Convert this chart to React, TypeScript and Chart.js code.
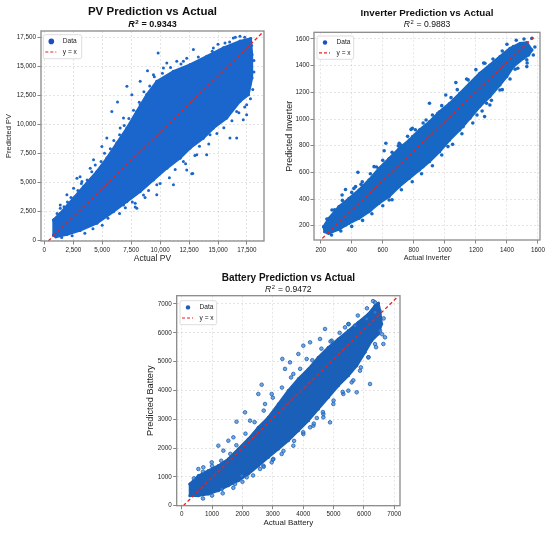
import React, { useEffect, useRef } from 'react';
import Chart from 'chart.js/auto';

type Pt = [number, number];

const FONT = "'Liberation Sans', Arial, sans-serif";
Chart.defaults.font.family = FONT;

const legendLabels = ['Data', 'y = x'];

// ---- PV ----
const pvTicks = [0, 2500, 5000, 7500, 10000, 12500, 15000, 17500];
const pvUpper: Pt[] = [[800, 1750], [1380, 2330], [2530, 3630], [3390, 4630], [4540, 5930], [5400, 7080], [6260, 8380], [7130, 9670], [7990, 11110], [8850, 12550], [9710, 13700], [11150, 14570], [12590, 15140], [14020, 15860], [15460, 16580], [16900, 17160], [17820, 17390]];
const pvLower: Pt[] = [[17930, 16000], [17930, 13990], [17620, 12550], [16900, 11980], [15750, 10540], [14600, 9670], [13740, 8810], [12590, 7950], [11720, 7080], [10580, 6220], [9430, 5210], [8280, 4200], [7130, 3340], [5980, 2480], [4540, 1470], [3100, 850], [1950, 500], [1000, 300], [800, 450]];
const pvScatter: Pt[] = [[12870, 16440], [15600, 17010], [8910, 14620], [8280, 13700], [5830, 11110], [6320, 11920], [4970, 8090], [5400, 8810], [3250, 5070], [1950, 3920], [1380, 2760], [7850, 3200], [7990, 2760], [12730, 5730], [12300, 6070], [16030, 8810], [16610, 8810], [17180, 10390], [15170, 10250], [10580, 15290], [11440, 15430], [7130, 13270], [7560, 12550], [4250, 6940], [2820, 5350], [9710, 3920], [11150, 4780], [14020, 7370], [17470, 11690], [9830, 16150], [12820, 5760], [7850, 2880], [3090, 5470], [9425, 14277], [10287, 14853], [12011, 15429], [6839, 10535], [6552, 9672], [8276, 11687], [3966, 6218], [2529, 4491], [1379, 3051], [14598, 16580], [16322, 17444], [16897, 17588], [17759, 13414], [17471, 10823], [16609, 11111], [14310, 9096], [13161, 7369], [12011, 6793], [9713, 4778], [8563, 3915], [6839, 3051], [5402, 2188], [3966, 1324]];
const pvFringe: Pt[] = [[1100, 2300], [1700, 2900], [2000, 3300], [2300, 3700], [2900, 4300], [3200, 4900], [3700, 5200], [4100, 5900], [4400, 6500], [4900, 6800], [5200, 7500], [5700, 7900], [6000, 8600], [6500, 9100], [6900, 9900], [7300, 10500], [7700, 11200], [8200, 11900], [8600, 12800], [9100, 13300], [9500, 14100], [10200, 14400], [10900, 14900], [11800, 15200], [12300, 15700], [13300, 15800], [14500, 16300], [15000, 16900], [16000, 17100], [16500, 17500], [17300, 17500], [1500, 250], [2400, 400], [3500, 600], [4200, 1000], [5000, 1300], [5500, 1900], [6500, 2300], [7000, 2800], [7600, 3300], [8700, 3700], [9000, 4300], [10000, 4900], [10800, 5400], [11300, 6100], [12200, 6600], [13000, 7300], [13400, 8100], [14200, 8300], [14900, 9200], [15500, 9700], [16200, 10300], [16800, 11000], [17300, 11500], [17800, 12200], [18000, 13000], [18100, 14500], [18100, 15500], [17900, 16800]];
const pvLine: Pt[] = [[345, -60], [18970, 18020]];

// ---- Inverter ----
const invTicks = [200, 400, 600, 800, 1000, 1200, 1400, 1600];
const invUpper: Pt[] = [[219, 193], [252, 255], [317, 343], [382, 405], [447, 468], [511, 543], [576, 630], [641, 705], [706, 780], [771, 843], [836, 918], [901, 980], [966, 1055], [1031, 1118], [1096, 1193], [1161, 1268], [1225, 1343], [1290, 1405], [1355, 1468], [1420, 1530], [1485, 1568], [1528, 1573]];
const invLower: Pt[] = [[1561, 1518], [1540, 1480], [1507, 1455], [1442, 1393], [1399, 1318], [1355, 1255], [1290, 1168], [1225, 1093], [1161, 1005], [1096, 918], [1031, 843], [966, 755], [901, 680], [836, 618], [771, 555], [706, 493], [641, 418], [576, 368], [511, 305], [447, 255], [382, 218], [317, 173], [252, 143], [226, 155]];
const invScatter: Pt[] = [[360, 472], [414, 480], [468, 530], [544, 643], [609, 762], [620, 818], [717, 805], [782, 922], [901, 1118], [1006, 1180], [1071, 1273], [1150, 1293], [1258, 1418], [1290, 1105], [1207, 1030], [1118, 943], [1020, 793], [858, 643], [749, 568], [641, 393], [522, 318], [414, 280], [1561, 1605], [1453, 1373], [1528, 1443], [440, 600], [791, 931], [1256, 1018], [273, 318], [338, 430], [425, 493], [706, 818], [793, 868], [879, 993], [955, 1043], [1074, 1155], [1128, 1218], [1204, 1293], [1323, 1430], [1442, 1543], [1528, 1393], [1355, 1218], [1269, 1118], [1128, 968], [998, 805], [890, 718], [793, 643], [685, 530], [576, 393], [468, 280], [360, 205]];
const invFringe: Pt[] = [[240, 250], [290, 320], [340, 390], [400, 450], [460, 510], [520, 590], [560, 640], [600, 690], [660, 750], [700, 800], [760, 870], [810, 920], [860, 970], [920, 1030], [980, 1100], [1040, 1160], [1080, 1220], [1140, 1300], [1200, 1370], [1250, 1420], [1310, 1450], [1370, 1510], [1400, 1560], [1460, 1590], [1510, 1600], [270, 130], [330, 160], [400, 195], [470, 240], [530, 290], [600, 350], [660, 395], [720, 470], [790, 530], [850, 590], [920, 650], [980, 730], [1050, 810], [1110, 890], [1180, 970], [1240, 1060], [1300, 1140], [1370, 1220], [1420, 1300], [1470, 1380], [1530, 1420], [1570, 1480], [1580, 1540]];
const invLine: Pt[] = [[210, 105], [1579, 1623]];

// ---- Battery ----
const batTicks = [0, 1000, 2000, 3000, 4000, 5000, 6000, 7000];
const batUpper: Pt[] = [[273, 753], [548, 1042], [877, 1216], [1206, 1389], [1536, 1621], [1865, 1968], [2194, 2315], [2523, 2720], [2853, 3067], [3182, 3530], [3511, 3993], [3841, 4398], [4170, 4745], [4499, 5150], [4828, 5497], [5158, 5786], [5487, 6075], [5816, 6364], [6146, 6653], [6366, 6942], [6475, 7023]];
const batLower: Pt[] = [[6530, 6769], [6585, 6306], [6475, 5959], [6256, 5727], [6036, 5322], [5762, 4860], [5487, 4512], [5158, 4165], [4828, 3760], [4499, 3355], [4170, 2950], [3841, 2603], [3511, 2256], [3182, 1967], [2853, 1678], [2523, 1389], [2194, 1100], [1865, 869], [1536, 695], [1206, 522], [877, 406], [548, 348], [273, 348]];
const batScatter: Pt[] = [[1806, 2914], [1536, 2256], [2085, 3240], [2633, 4200], [2523, 3876], [3314, 5095], [3402, 4747], [4005, 5554], [4227, 5670], [4555, 5786], [4719, 6134], [5377, 6190], [5487, 6306], [6201, 4224], [5762, 3936], [5487, 3993], [4884, 2893], [4664, 3067], [4448, 3043], [4227, 2719], [3018, 1621], [2688, 1389], [1976, 1042], [6694, 5843], [6640, 5612], [712, 1332], [1206, 2083], [6366, 7058], [3566, 4975], [3841, 5265], [548, 1274], [988, 1505], [1372, 1910], [1701, 2373], [2250, 2951], [2743, 3530], [2963, 3877], [3676, 4571], [4115, 5092], [4938, 5728], [5707, 6248], [6091, 6480], [6366, 6711], [6530, 6075], [6366, 5612], [6146, 5149], [5871, 4686], [5597, 4281], [5322, 3876], [4993, 3529], [4664, 3182], [4335, 2777], [4005, 2488], [3676, 2083], [3292, 1794], [2963, 1505], [2579, 1274], [2140, 985], [1756, 753], [1317, 579]];
const batFringe: Pt[] = [[400, 950], [700, 1180], [1000, 1380], [1300, 1560], [1600, 1800], [1800, 2100], [2100, 2500], [2400, 2900], [2700, 3300], [3000, 3750], [3300, 4100], [3600, 4450], [3900, 4750], [4300, 5050], [4600, 5450], [4900, 5700], [5200, 6000], [5500, 6300], [5800, 6600], [6100, 6850], [6300, 7100], [700, 250], [1000, 350], [1350, 430], [1700, 620], [2000, 830], [2350, 1050], [2700, 1350], [3000, 1600], [3350, 1900], [3700, 2250], [4000, 2550], [4350, 2850], [4650, 3250], [5000, 3650], [5300, 3950], [5650, 4350], [5900, 4800], [6150, 5150], [6400, 5500], [6600, 5950], [6650, 6500]];
const batLine: Pt[] = [[53, 0], [7110, 7250]];

const toXY = (pts: Pt[]) => pts.map(([x, y]) => ({ x, y }));

const panelDecor = {
    id: 'panelDecor',
    afterDraw(chart: any, _args: any, o: any) {
        const { ctx, chartArea: a } = chart;
        ctx.save();
        // axes frame
        ctx.strokeStyle = '#8a8a8a';
        ctx.lineWidth = 1.3;
        ctx.strokeRect(a.left, a.top, a.right - a.left, a.bottom - a.top);

        // title
        const cx = (a.left + a.right) / 2;
        ctx.fillStyle = '#111';
        ctx.textBaseline = 'middle';
        ctx.textAlign = 'center';
        ctx.font = `bold ${o.titleSize}px ${FONT}`;
        ctx.fillText(o.title, cx, o.titleY);

        // R^2 line
        const wt = o.r2Bold ? 'bold ' : '';
        const fR = `italic ${wt}${o.r2Size}px ${FONT}`;
        const fSup = `${wt}${o.r2Size * 0.68}px ${FONT}`;
        const fMain = `${wt}${o.r2Size}px ${FONT}`;
        const rest = ` = ${o.r2}`;
        ctx.font = fR; const wR = ctx.measureText('R').width;
        ctx.font = fSup; const wS = ctx.measureText('2').width;
        ctx.font = fMain; const wRest = ctx.measureText(rest).width;
        let x = cx - (wR + wS + 1 + wRest) / 2;
        ctx.textAlign = 'left';
        ctx.font = fR; ctx.fillText('R', x, o.r2Y); x += wR + 0.5;
        ctx.font = fSup; ctx.fillText('2', x, o.r2Y - o.r2Size * 0.33); x += wS + 0.5;
        ctx.font = fMain; ctx.fillText(rest, x, o.r2Y);

        // legend box inside the axes
        const lg = o.legend;
        const bx = a.left + lg.dx, by = a.top + lg.dy;
        ctx.beginPath();
        ctx.roundRect(bx, by, lg.w, lg.h, 2);
        ctx.fillStyle = 'rgba(255,255,255,0.9)';
        ctx.fill();
        ctx.strokeStyle = '#d4d4d4';
        ctx.lineWidth = 0.8;
        ctx.stroke();
        const y1 = by + lg.h * 0.28, y2 = by + lg.h * 0.72;
        ctx.fillStyle = lg.dotColor;
        ctx.beginPath();
        ctx.arc(bx + 8, y1, lg.dotR, 0, Math.PI * 2);
        ctx.fill();
        ctx.strokeStyle = '#e8211f';
        ctx.lineWidth = 1.2;
        ctx.setLineDash([3, 2]);
        ctx.beginPath();
        ctx.moveTo(bx + 2, y2);
        ctx.lineTo(bx + 13, y2);
        ctx.stroke();
        ctx.setLineDash([]);
        ctx.fillStyle = '#222';
        ctx.font = `${lg.fontSize}px ${FONT}`;
        ctx.fillText(legendLabels[0], bx + 19.5, y1);
        ctx.fillText(legendLabels[1], bx + 19.5, y2);
        ctx.restore();
    }
};

interface AxisCfg {
    min: number; max: number; ticks: number[]; title: string; titleSize: number;
    titlePad: number; tickPad: number; size: number; fmt?: (v: number) => string;
}

interface PanelCfg {
    box: { left: number; top: number; width: number; height: number };
    padTop: number; padRight: number;
    x: AxisCfg; y: AxisCfg;
    upper: Pt[]; lower: Pt[]; scatter: Pt[]; line: Pt[];
    color: string; pointFill: string; pointRadius: number; pointBorder: number;
    decor: any;
}

const plain = (v: number) => String(v);
const comma = (v: number) => v.toLocaleString('en-US');

const ScatterPanel: React.FC<{ cfg: PanelCfg }> = ({ cfg }) => {
    const canvasRef = useRef<HTMLCanvasElement>(null);
    const chartRef = useRef<Chart>();

    useEffect(() => {
        if (!canvasRef.current) return;
        if (chartRef.current) chartRef.current.destroy();

        const band = toXY([...cfg.upper, ...cfg.lower, cfg.upper[0]]);
        const axis = (c: AxisCfg, horizontal: boolean) => ({
            type: 'linear',
            min: c.min,
            max: c.max,
            afterBuildTicks: (s: any) => { s.ticks = c.ticks.map(value => ({ value })); },
            afterFit: (s: any) => { if (horizontal) s.height = c.size; else s.width = c.size; },
            border: { display: false, dash: [2, 2] },
            grid: { color: 'rgba(0,0,0,0.1)', tickColor: '#666', tickLength: 3.5, tickWidth: 0.8 },
            ticks: {
                autoSkip: false, maxRotation: 0, padding: c.tickPad, color: '#222',
                font: { size: 6.3 },
                callback: (v: any) => (c.fmt || plain)(Number(v))
            },
            title: {
                display: true, text: c.title, color: '#222',
                font: { size: c.titleSize },
                padding: { top: c.titlePad, bottom: c.titlePad }
            }
        });

        chartRef.current = new Chart(canvasRef.current, {
            type: 'scatter',
            data: {
                datasets: [
                    {
                        label: 'y = x', data: toXY(cfg.line), showLine: true, order: 0,
                        borderColor: '#e8211f', borderWidth: 1.3, borderDash: [3.5, 2.5], pointRadius: 0
                    },
                    {
                        label: 'Data', data: toXY(cfg.scatter), order: 1,
                        pointRadius: cfg.pointRadius, backgroundColor: cfg.pointFill,
                        borderColor: cfg.color, borderWidth: cfg.pointBorder
                    },
                    {
                        label: 'Data', data: band, showLine: true, fill: 'shape', order: 2,
                        backgroundColor: cfg.color, borderColor: cfg.color, borderWidth: 2.5,
                        pointRadius: 1.6, pointBackgroundColor: cfg.color, pointBorderWidth: 0
                    }
                ]
            },
            options: {
                animation: false,
                responsive: true,
                maintainAspectRatio: false,
                events: [],
                layout: { padding: { top: cfg.padTop, right: cfg.padRight, left: 0, bottom: 0 } },
                scales: { x: axis(cfg.x, true), y: axis(cfg.y, false) },
                plugins: {
                    legend: { display: false },
                    tooltip: { enabled: false },
                    panelDecor: cfg.decor
                }
            } as any,
            plugins: [panelDecor]
        });

        return () => {
            if (chartRef.current) chartRef.current.destroy();
        };
    }, [cfg]);

    const b = cfg.box;
    return (
        <div style={{ position: 'absolute', left: b.left, top: b.top, width: b.width, height: b.height }}>
            <canvas ref={canvasRef}></canvas>
        </div>
    );
};

const pvCfg: PanelCfg = {
    box: { left: 0, top: 0, width: 272, height: 268 },
    padTop: 31, padRight: 8,
    x: { min: -285, max: 18970, ticks: pvTicks, title: 'Actual PV', titleSize: 8.5, titlePad: 4, tickPad: 1.5, size: 27, fmt: comma },
    y: { min: -60, max: 18040, ticks: pvTicks, title: 'Predicted PV', titleSize: 7.5, titlePad: 4.8, tickPad: 1.5, size: 41, fmt: comma },
    upper: pvUpper, lower: pvLower, scatter: [...pvScatter, ...pvFringe], line: pvLine,
    color: '#1a66cc', pointFill: '#1a66cc', pointRadius: 1.5, pointBorder: 0,
    decor: {
        title: 'PV Prediction vs Actual', titleSize: 11.5, titleY: 11.7,
        r2: '0.9343', r2Bold: true, r2Size: 9, r2Y: 25,
        legend: { dx: 2.3, dy: 3.7, w: 38.4, h: 24, dotR: 2.8, dotColor: '#1a4fc0', fontSize: 6.6 }
    }
};

const invCfg: PanelCfg = {
    box: { left: 272, top: 0, width: 278, height: 268 },
    padTop: 32.3, padRight: 10,
    x: { min: 157, max: 1613, ticks: invTicks, title: 'Actual Inverter', titleSize: 7.2, titlePad: 5.5, tickPad: 2.5, size: 28 },
    y: { min: 93, max: 1650, ticks: invTicks, title: 'Predicted Inverter', titleSize: 9, titlePad: 12.5, tickPad: 1, size: 42 },
    upper: invUpper, lower: invLower, scatter: [...invScatter, ...invFringe], line: invLine,
    color: '#1768c4', pointFill: '#1768c4', pointRadius: 1.8, pointBorder: 0,
    decor: {
        title: 'Inverter Prediction vs Actual', titleSize: 9.8, titleY: 13.3,
        r2: '0.9883', r2Bold: false, r2Size: 8.6, r2Y: 25,
        legend: { dx: 3, dy: 3.7, w: 36.7, h: 23.3, dotR: 2.2, dotColor: '#1a4fc0', fontSize: 6.6 }
    }
};

const batCfg: PanelCfg = {
    box: { left: 130, top: 265, width: 290, height: 270 },
    padTop: 30.7, padRight: 20,
    x: { min: -165, max: 7188, ticks: batTicks, title: 'Actual Battery', titleSize: 8, titlePad: 7, tickPad: 1, size: 29.3 },
    y: { min: 0, max: 7288, ticks: batTicks, title: 'Predicted Battery', titleSize: 9.2, titlePad: 15, tickPad: 1.5, size: 46.7 },
    upper: batUpper, lower: batLower, scatter: [...batScatter, ...batFringe], line: batLine,
    color: '#1a60b8', pointFill: 'rgba(60,130,210,0.7)', pointRadius: 1.8, pointBorder: 0.8,
    decor: {
        title: 'Battery Prediction vs Actual', titleSize: 10, titleY: 13.3,
        r2: '0.9472', r2Bold: false, r2Size: 8.6, r2Y: 25,
        legend: { dx: 3.3, dy: 5, w: 36.7, h: 24, dotR: 2.2, dotColor: '#1a5fb4', fontSize: 6.6 }
    }
};

const App: React.FC = () => (
    <div style={{ position: 'absolute', left: 0, top: 0, width: 550, height: 535, background: '#fff' }}>
        <ScatterPanel cfg={pvCfg} />
        <ScatterPanel cfg={invCfg} />
        <ScatterPanel cfg={batCfg} />
    </div>
);

export default App;
